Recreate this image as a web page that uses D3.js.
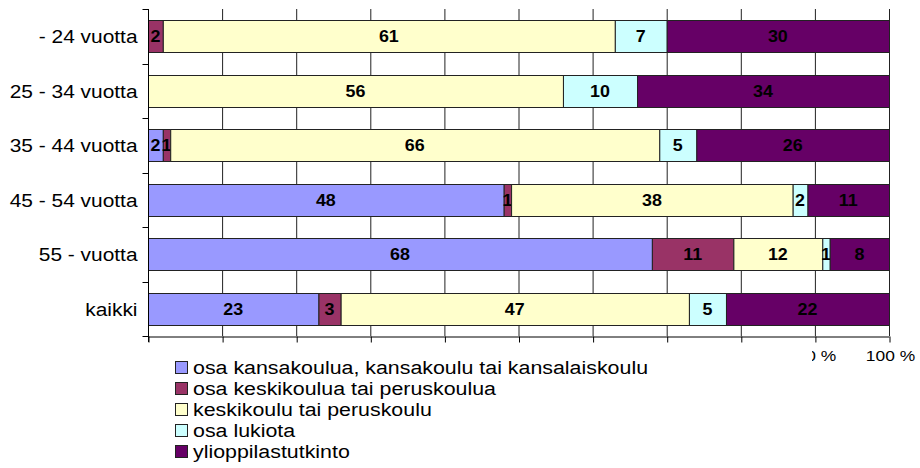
<!DOCTYPE html>
<html>
<head>
<meta charset="utf-8">
<script src="https://cdn.jsdelivr.net/npm/d3@7"></script>
<style>
  html, body { margin: 0; padding: 0; background: #fff; }
  svg { display: block; font-family: 'Liberation Sans', Arial, sans-serif; }
</style>
</head>
<body>
<svg id="chart" width="920" height="468"></svg>
<script>
// data
const groups = ['- 24 vuotta', '25 - 34 vuotta', '35 - 44 vuotta', '45 - 54 vuotta', '55 - vuotta', 'kaikki']
const series = [
  'osa kansakoulua, kansakoulu tai kansalaiskoulu',
  'osa keskikoulua tai peruskoulua',
  'keskikoulu tai peruskoulu',
  'osa lukiota',
  'ylioppilastutkinto',
]
const osaKansakoulua = [0, 0, 2, 48, 68, 23]
const osaKeskikoulua = [2, 0, 1, 1, 11, 3]
const keskikoulu = [61, 56, 66, 38, 12, 47]
const osaLukiota = [7, 10, 5, 2, 1, 5]
const ylioppilas = [30, 34, 26, 11, 8, 22]
const xTicks = [0, 10, 20, 30, 40, 50, 60, 70, 80, 90, 100]

const colors = ['#9999ff', '#993366', '#ffffcc', '#ccffff', '#660066']
const values = [osaKansakoulua, osaKeskikoulua, keskikoulu, osaLukiota, ylioppilas]

// the source picture is a bit stretched sideways, so text is too
const SX_AXIS = 1.1
const SX_TICK = 1.16
const SX_LEGEND = 1.125

const svg = d3.select('#chart')

const x = d3.scaleLinear().domain([0, 100]).range([148, 889])
const y = d3.scaleBand().domain(groups).range([9, 336]).paddingInner(0.41).paddingOuter(0.205)

// stack the rows
const rows = groups.map((g, i) => {
  const r = { group: g }
  series.forEach((s, j) => { r[s] = values[j][i] })
  return r
})
const stacked = d3.stack().keys(series)(rows)

// vertical grid lines
svg.append('g')
  .selectAll('line')
  .data(xTicks)
  .enter()
  .append('line')
  .attr('x1', (d) => x(d) + 0.5)
  .attr('x2', (d) => x(d) + 0.5)
  .attr('y1', y.range()[0])
  .attr('y2', y.range()[1])
  .attr('stroke', '#222')
  .attr('stroke-width', 1)

// bars
const layer = svg.append('g')
  .selectAll('g')
  .data(stacked)
  .enter()
  .append('g')
  .attr('fill', (d, i) => colors[i])

layer.selectAll('rect')
  .data((d) => d.filter((p) => p[1] - p[0] > 0))
  .enter()
  .append('rect')
  .attr('x', (d) => x(d[0]) + 0.5)
  .attr('y', (d) => Math.round(y(d.data.group)) + 0.5)
  .attr('width', (d) => x(d[1]) - x(d[0]))
  .attr('height', Math.round(y.bandwidth()))
  .attr('stroke', '#222')
  .attr('stroke-width', 1)

// value labels
layer.selectAll('g.lbl')
  .data((d) => d.filter((p) => p[1] - p[0] > 0))
  .enter()
  .append('g')
  .attr('class', 'lbl')
  .attr('transform', (d) => `translate(${(x(d[0]) + x(d[1])) / 2},${Math.round(y(d.data.group)) + y.bandwidth() / 2}) scale(1.05,1)`)
  .append('text')
  .attr('text-anchor', 'middle')
  .attr('dy', '0.36em')
  .attr('fill', '#000')
  .style('font-size', '17px')
  .style('font-weight', 'bold')
  .text((d) => d[1] - d[0])

// x axis
const xAxis = svg.append('g')
  .attr('transform', `translate(0,${y.range()[1] + 0.5})`)
  .call(d3.axisBottom(x).tickValues(xTicks).tickFormat((d) => d + ' %').tickSize(6).tickPadding(8).tickSizeOuter(0))

xAxis.select('.domain').attr('stroke', '#000')
xAxis.selectAll('.tick line').attr('stroke', '#000').attr('transform', 'translate(0.5,0)')
xAxis.selectAll('text')
  .attr('fill', '#000')
  .style('font-size', '15px')
  .attr('transform', `scale(${SX_TICK},1)`)
  .attr('x', 1 / SX_TICK)
  // the legend box covers these labels in the original, only 90 % peeks out
  .style('display', (d) => d < 90 ? 'none' : null)

// y axis: labels at the row centres, ticks on the row borders
const yAxis = svg.append('g')
  .attr('transform', `translate(${x(0) + 0.5},0)`)
  .call(d3.axisLeft(y).tickSize(0).tickPadding(11).tickSizeOuter(0))

yAxis.select('.domain').attr('stroke', '#000').attr('d', `M0,${y.range()[0]}V${y.range()[1] + 6}`)
yAxis.selectAll('text')
  .attr('fill', '#000')
  .style('font-size', '19px')
  .attr('transform', `scale(${SX_AXIS},1)`)
  .attr('x', -11 / SX_AXIS)
  .attr('dy', '0.36em')

const borders = d3.range(groups.length + 1).map((i) => y.range()[0] + i * y.step())
yAxis.selectAll('line.border')
  .data(borders)
  .enter()
  .append('line')
  .attr('class', 'border')
  .attr('x1', -6)
  .attr('x2', 0)
  .attr('y1', (d) => Math.round(d) + 0.5)
  .attr('y2', (d) => Math.round(d) + 0.5)
  .attr('stroke', '#000')

// legend, its white box hides most of the x tick labels like in the original
const legend = svg.append('g')
legend.append('rect')
  .attr('x', 118)
  .attr('y', 346)
  .attr('width', 694)
  .attr('height', 122)
  .attr('fill', '#fff')

const item = legend.selectAll('g.item')
  .data(series)
  .enter()
  .append('g')
  .attr('class', 'item')
  .attr('transform', (d, i) => `translate(175,${361 + i * 21})`)

item.append('rect')
  .attr('x', 0.5)
  .attr('y', 0.5)
  .attr('width', 12)
  .attr('height', 12)
  .attr('fill', (d, i) => colors[i])
  .attr('stroke', '#222')

item.append('text')
  .attr('transform', `translate(18,6.5) scale(${SX_LEGEND},1)`)
  .attr('dy', '0.36em')
  .attr('fill', '#000')
  .style('font-size', '19px')
  .text((d) => d)
</script>
</body>
</html>
